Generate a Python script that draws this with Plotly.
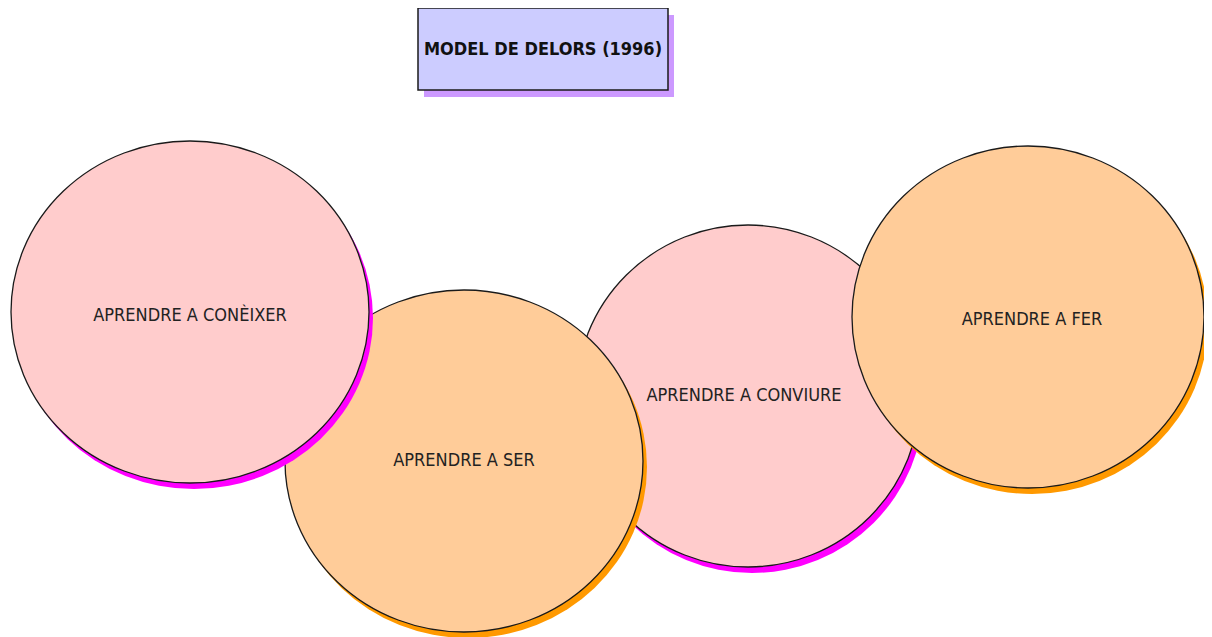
import plotly.graph_objects as go

# Content
title_text = "MODEL DE DELORS (1996)"
labels = ["APRENDRE A CONÈIXER", "APRENDRE A SER", "APRENDRE A CONVIURE", "APRENDRE A FER"]

# Geometry (page pixel space, y downward)
cx = [190, 464, 748, 1028]
cy = [312, 461, 396, 317]
rx = [179, 179, 172, 176]
ry = [171, 171, 171, 171]
label_x = [190, 464, 744, 1032]
label_y = [316, 461, 396, 320]
fills = ["#FFCCCC", "#FFCC99", "#FFCCCC", "#FFCC99"]
shadows = ["#FF00FF", "#FF9900", "#FF00FF", "#FF9900"]
draw_order = [2, 1, 0, 3]

W, H = 1212, 637
OFF = 8  # default page body margin
shadow_dx, shadow_dy = 4, 6

shapes = []
tb = dict(x0=418, x1=668, y0=8, y1=90)
shapes.append(dict(type="rect", xref="x", yref="y", x0=tb["x0"] + 6, x1=tb["x1"] + 6,
                   y0=tb["y0"] + 7, y1=tb["y1"] + 7, fillcolor="#CC99FF",
                   line=dict(width=0), layer="below"))
shapes.append(dict(type="rect", xref="x", yref="y", x0=tb["x0"], x1=tb["x1"],
                   y0=tb["y0"], y1=tb["y1"], fillcolor="#CCCCFF",
                   line=dict(color="#1a1a1a", width=1.5), layer="below"))

for i in draw_order:
    shapes.append(dict(type="circle", xref="x", yref="y",
                       x0=cx[i] - rx[i] + shadow_dx, x1=cx[i] + rx[i] + shadow_dx,
                       y0=cy[i] - ry[i] + shadow_dy, y1=cy[i] + ry[i] + shadow_dy,
                       fillcolor=shadows[i], line=dict(width=0), layer="below"))
    shapes.append(dict(type="circle", xref="x", yref="y",
                       x0=cx[i] - rx[i], x1=cx[i] + rx[i],
                       y0=cy[i] - ry[i], y1=cy[i] + ry[i],
                       fillcolor=fills[i], line=dict(color="#1a1a1a", width=1.3), layer="below"))

fig = go.Figure()
fig.add_trace(go.Scatter(
    x=label_x, y=label_y, mode="text", text=labels,
    textfont=dict(family="DejaVu Sans Condensed, DejaVu Sans", size=18, color="#222222"),
    hoverinfo="skip", showlegend=False))
fig.add_trace(go.Scatter(
    x=[(tb["x0"] + tb["x1"]) / 2], y=[(tb["y0"] + tb["y1"]) / 2 + 1], mode="text",
    text=["<b>" + title_text + "</b>"],
    textfont=dict(family="DejaVu Sans Condensed, DejaVu Sans", size=18, color="#111111"),
    hoverinfo="skip", showlegend=False))

fig.update_layout(
    width=W - OFF, height=H - OFF, margin=dict(l=0, r=0, t=0, b=0),
    paper_bgcolor="white", plot_bgcolor="white",
    shapes=shapes, showlegend=False,
    xaxis=dict(range=[OFF, W], visible=False, fixedrange=True),
    yaxis=dict(range=[H, OFF], visible=False, fixedrange=True),
)
fig.write_html("out.html")
